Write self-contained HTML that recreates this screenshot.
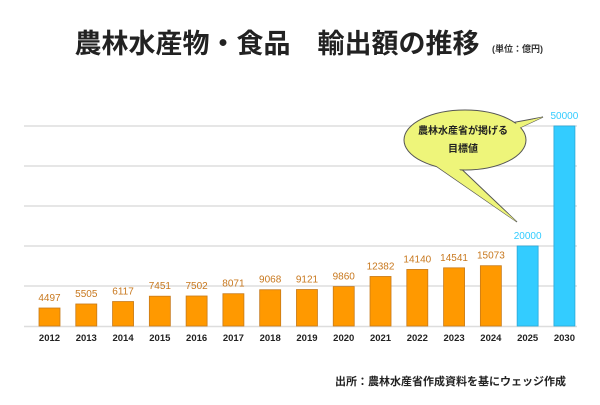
<!DOCTYPE html>
<html><head><meta charset="utf-8"><style>
body{margin:0;background:#fff;width:600px;height:400px;overflow:hidden}
svg text{font-family:"Liberation Sans","Noto Sans CJK JP",sans-serif}
</style></head><body>
<svg width="600" height="400" viewBox="0 0 600 400">
<text x="277" y="53" font-size="27" font-weight="bold" text-anchor="middle" fill="#222">農林水産物・食品　輸出額の推移</text>
<text x="492" y="52" font-size="9" font-weight="bold" fill="#333">(単位：億円)</text>
<g stroke="#ddd" stroke-width="1.5">
<line x1="24" x2="577" y1="126" y2="126"/>
<line x1="24" x2="577" y1="166" y2="166"/><line x1="24" x2="577" y1="206" y2="206"/>
<line x1="24" x2="577" y1="246" y2="246"/><line x1="24" x2="577" y1="286" y2="286"/>
<line x1="24" x2="577" y1="326.5" y2="326.5"/>
</g>
<g stroke="#c77a1a" stroke-width="0.8" fill="#ff9900">
<rect x="39" y="308.01" width="21" height="17.99"/>
<rect x="75.78" y="303.98" width="21" height="22.02"/>
<rect x="112.56" y="301.53" width="21" height="24.47"/>
<rect x="149.34" y="296.2" width="21" height="29.8"/>
<rect x="186.12" y="295.99" width="21" height="30.01"/>
<rect x="222.9" y="293.72" width="21" height="32.28"/>
<rect x="259.68" y="289.73" width="21" height="36.27"/>
<rect x="296.46" y="289.52" width="21" height="36.48"/>
<rect x="333.24" y="286.56" width="21" height="39.44"/>
<rect x="370.02" y="276.47" width="21" height="49.53"/>
<rect x="406.8" y="269.44" width="21" height="56.56"/>
<rect x="443.58" y="267.84" width="21" height="58.16"/>
<rect x="480.36" y="265.71" width="21" height="60.29"/>
</g>
<g stroke="#2aa8d8" stroke-width="0.8" fill="#33ccff">
<rect x="517.14" y="246" width="21" height="80"/>
<rect x="553.92" y="126" width="21" height="200"/>
</g>
<g font-size="10" text-anchor="middle" fill="#c8781e">
<text x="49.5" y="301">4497</text>
<text x="86.28" y="297">5505</text>
<text x="123.06" y="294.5">6117</text>
<text x="159.84" y="289">7451</text>
<text x="196.62" y="289">7502</text>
<text x="233.4" y="286.7">8071</text>
<text x="270.18" y="282.7">9068</text>
<text x="306.96" y="282.5">9121</text>
<text x="343.74" y="279.5">9860</text>
<text x="380.52" y="269.5">12382</text>
<text x="417.3" y="262.4">14140</text>
<text x="454.08" y="260.8">14541</text>
<text x="490.86" y="258.7">15073</text>
</g>
<g font-size="10" text-anchor="middle" fill="#33ccff">
<text x="527.64" y="239">20000</text>
<text x="564.42" y="119">50000</text>
</g>
<g font-size="9.5" font-weight="bold" text-anchor="middle" fill="#222">
<text x="49.5" y="341">2012</text><text x="86.28" y="341">2013</text><text x="123.06" y="341">2014</text>
<text x="159.84" y="341">2015</text><text x="196.62" y="341">2016</text><text x="233.4" y="341">2017</text>
<text x="270.18" y="341">2018</text><text x="306.96" y="341">2019</text><text x="343.74" y="341">2020</text>
<text x="380.52" y="341">2021</text><text x="417.3" y="341">2022</text><text x="454.08" y="341">2023</text>
<text x="490.86" y="341">2024</text><text x="527.64" y="341">2025</text><text x="564.42" y="341">2030</text>
</g>
<path d="M430,162 L517,222 L452,160 Z" fill="#eef57a" stroke="#555" stroke-width="1"/>
<path d="M500,125 L543,117 L498,138 Z" fill="#eef57a" stroke="#555" stroke-width="1"/>
<ellipse cx="465" cy="140" rx="61" ry="30" fill="#eef57a" stroke="#555" stroke-width="1"/>
<path d="M432,163 L517,222 L450,161 Z" fill="#eef57a"/>
<path d="M502,127 L543,117 L500,137 Z" fill="#eef57a"/>
<text x="463" y="134" font-size="10" font-weight="bold" text-anchor="middle" fill="#222">農林水産省が掲げる</text>
<text x="463" y="152" font-size="10" font-weight="bold" text-anchor="middle" fill="#222">目標値</text>
<text x="566" y="385" font-size="11" font-weight="bold" text-anchor="end" fill="#222">出所：農林水産省作成資料を基にウェッジ作成</text>
</svg>
</body></html>
